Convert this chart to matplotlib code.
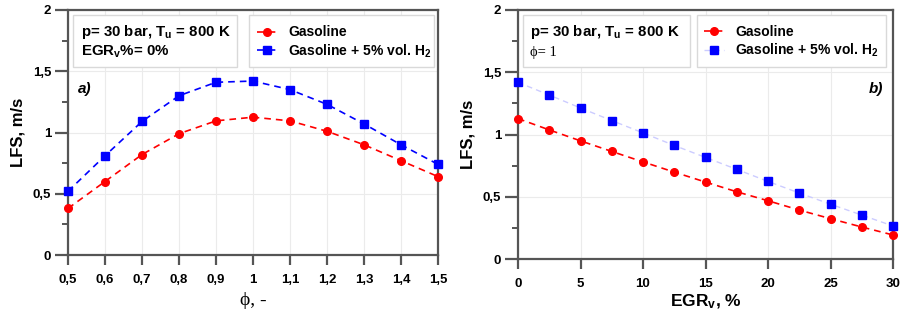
import matplotlib
matplotlib.use('Agg')
import matplotlib.pyplot as plt
from matplotlib.patches import Rectangle
from matplotlib.ticker import MultipleLocator

plt.rcParams['font.family'] = ['Liberation Sans', 'DejaVu Sans']
plt.rcParams['mathtext.default'] = 'regular'

# ---------------- data ----------------
phi = [0.5, 0.6, 0.7, 0.8, 0.9, 1.0, 1.1, 1.2, 1.3, 1.4, 1.5]
lfs_gas_phi = [0.38, 0.60, 0.82, 0.99, 1.095, 1.125, 1.095, 1.01, 0.90, 0.77, 0.64]
lfs_h2_phi = [0.52, 0.81, 1.09, 1.30, 1.41, 1.42, 1.35, 1.23, 1.07, 0.90, 0.74]

egr = [0, 2.5, 5, 7.5, 10, 12.5, 15, 17.5, 20, 22.5, 25, 27.5, 30]
lfs_gas_egr = [1.128, 1.037, 0.949, 0.864, 0.78, 0.698, 0.618, 0.54, 0.468, 0.393, 0.324, 0.257, 0.193]
lfs_h2_egr = [1.419, 1.317, 1.213, 1.112, 1.013, 0.912, 0.816, 0.72, 0.623, 0.53, 0.44, 0.353, 0.265]

phi_ticks = [0.5, 0.6, 0.7, 0.8, 0.9, 1.0, 1.1, 1.2, 1.3, 1.4, 1.5]
phi_ticklabels = ['0,5', '0,6', '0,7', '0,8', '0,9', '1', '1,1', '1,2', '1,3', '1,4', '1,5']
egr_ticks = [0, 5, 10, 15, 20, 25, 30]
egr_ticklabels = ['0', '5', '10', '15', '20', '25', '30']
lfs_ticks = [0, 0.5, 1, 1.5, 2]
lfs_ticklabels = ['0', '0,5', '1', '1,5', '2']

label_gas = 'Gasoline'
label_h2 = 'Gasoline + 5% vol. H$_2$'

# ---------------- figure ----------------
W, H = 902, 321
fig = plt.figure(figsize=(W / 100, H / 100), dpi=100)

def px_axes(x0, x1, ytop, ybot):
    return fig.add_axes([x0 / W, (H - ybot) / H, (x1 - x0) / W, (ybot - ytop) / H])

axL = px_axes(68, 438, 10, 255)
axR = px_axes(518, 893, 10, 259)

spine_c = '#555555'
grid_c = '#ebebeb'
red = '#ff0000'
blue = '#0000ff'

def style_axes(ax):
    for s in ax.spines.values():
        s.set_color(spine_c)
        s.set_linewidth(1.6)
    ax.tick_params(axis='both', which='major', direction='out', color=spine_c,
                   width=1.6, labelsize=9.5)
    ax.tick_params(axis='x', which='major', length=7.2, pad=6.5)
    ax.tick_params(axis='y', which='major', length=9.2, pad=3)
    ax.tick_params(axis='y', which='minor', direction='out', color=spine_c,
                   width=1.4, length=4.5)
    ax.grid(True, which='major', color=grid_c, linewidth=0.8)
    ax.set_axisbelow(True)
    ax.set_ylim(0, 2)
    ax.set_yticks(lfs_ticks)
    ax.set_yticklabels(lfs_ticklabels, fontweight='bold')
    ax.yaxis.set_minor_locator(MultipleLocator(0.25))
    ax.set_ylabel('LFS, m/s', fontsize=12, fontweight='bold', labelpad=5)

# ---- left ----
axL.plot(phi, lfs_gas_phi, color=red, ls=(0, (4, 3)), lw=1.2, marker='o',
         markersize=5.5, label=label_gas, clip_on=False, zorder=4)
axL.plot(phi, lfs_h2_phi, color=blue, ls=(0, (4, 3)), lw=1.2, marker='s',
         markersize=5.5, label=label_h2, clip_on=False, zorder=4)
axL.set_xlim(0.5, 1.5)
axL.set_xticks(phi_ticks)
axL.set_xticklabels(phi_ticklabels, fontweight='bold')
style_axes(axL)
axL.set_xlabel('ϕ, -', fontsize=14, family=['Liberation Serif', 'DejaVu Serif'], labelpad=4)

# ---- right ----
axR.plot(egr, lfs_gas_egr, color=red, ls=(0, (4, 3)), lw=1.2, marker='o',
         markersize=5.5, label=label_gas, clip_on=False, zorder=4)
axR.plot(egr, lfs_h2_egr, color='#ccccff', ls=(0, (4, 3)), lw=1.0, marker='s',
         markersize=6, markerfacecolor=blue, markeredgecolor=blue,
         label=label_h2, clip_on=False, zorder=4)
axR.set_xlim(0, 30)
axR.set_xticks(egr_ticks)
axR.set_xticklabels(egr_ticklabels, fontweight='bold')
style_axes(axR)
axR.set_xlabel('EGR$_v$, %', fontsize=12.5, fontweight='bold', labelpad=2)

# ---- boxes ----
def box(ax, x0, x1, ytop, ybot):
    ax.add_patch(Rectangle((x0, ybot), x1 - x0, ytop - ybot, transform=ax.transAxes,
                           facecolor='white', edgecolor='#d9d9d9', lw=1.0,
                           zorder=8, clip_on=False))

# left info box
box(axL, 0.0135, 0.457, 0.98, 0.767)
axL.text(0.034, 0.91, 'p= 30 bar, T$_u$ = 800 K', transform=axL.transAxes,
         fontsize=10.8, fontweight='bold', va='center', ha='left', zorder=9)
axL.text(0.034, 0.83, 'EGR$_v$%= 0%', transform=axL.transAxes,
         fontsize=10.8, fontweight='bold', va='center', ha='left', zorder=9)
# left legend box
box(axL, 0.489, 0.989, 0.98, 0.767)
legL = axL.legend(loc='upper left', bbox_to_anchor=(0.51, 0.937), frameon=False,
                  fontsize=10, handlelength=1.45, handletextpad=0.8,
                  labelspacing=0.2, borderpad=0, borderaxespad=0)
legL.set_zorder(9)
for t in legL.get_texts():
    t.set_fontweight('bold')
axL.text(0.027, 0.678, 'a)', transform=axL.transAxes, fontsize=11,
         fontweight='bold', style='italic', va='center', ha='left')

# right info box
box(axR, 0.0133, 0.459, 0.98, 0.771)
axR.text(0.033, 0.91, 'p= 30 bar, T$_u$ = 800 K', transform=axR.transAxes,
         fontsize=10.8, fontweight='bold', va='center', ha='left', zorder=9)
axR.text(0.033, 0.83, 'ϕ= 1', transform=axR.transAxes,
         fontsize=10.5, family=['Liberation Serif', 'DejaVu Serif'],
         va='center', ha='left', zorder=9)
box(axR, 0.477, 0.981, 0.98, 0.771)
legR = axR.legend(loc='upper left', bbox_to_anchor=(0.495, 0.939), frameon=False,
                  fontsize=10, handlelength=1.45, handletextpad=0.8,
                  labelspacing=0.2, borderpad=0, borderaxespad=0)
legR.set_zorder(9)
for t in legR.get_texts():
    t.set_fontweight('bold')
axR.text(0.973, 0.683, 'b)', transform=axR.transAxes, fontsize=11,
         fontweight='bold', style='italic', va='center', ha='right')

fig.savefig('out.png', dpi=100)
